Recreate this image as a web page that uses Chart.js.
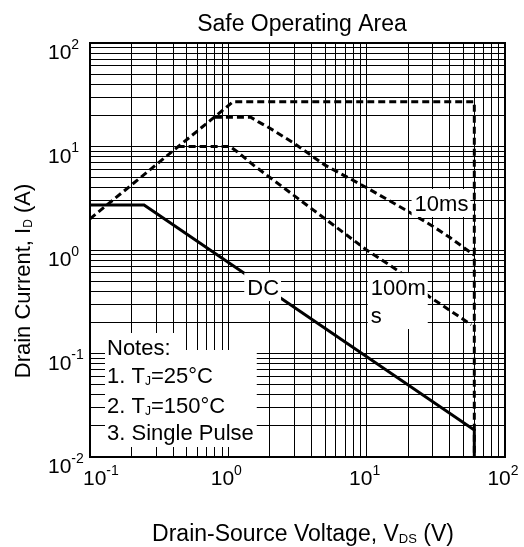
<!DOCTYPE html>
<html>
<head>
<meta charset="utf-8">
<script src="https://cdn.jsdelivr.net/npm/chart.js@4.4.0/dist/chart.umd.min.js"></script>
<style>
  html, body { margin: 0; padding: 0; background: #fff; }
  #wrap { width: 524px; height: 547px; position: relative; }
</style>
</head>
<body>
<div id="wrap"><canvas id="soa"></canvas></div>
<script>
// Safe Operating Area (log-log).
const xTickExps = [-1, 0, 1, 2];
const yTickExps = [-2, -1, 0, 1, 2];

// outer envelope: Rds(on) limit, 27 A flat, 60 V wall
const envV = [0.1, 1.08, 60, 60];
const envI = [2.0, 27, 27, 0.01];

// 10 ms pulse
const p10V = [0.8, 1.45, 1.64, 2.0, 3.0, 5.0, 10, 20, 30, 40, 60];
const p10I = [19.2, 19.2, 17.4, 15.0, 10.7, 6.6, 4.0, 2.35, 1.7, 1.32, 0.89];

// 100 ms pulse
const p100V = [0.43, 1.03, 1.16, 1.52, 3.3, 10, 17.3, 28.4, 57];
const p100I = [10, 10, 8.9, 6.6, 3.04, 1.0, 0.617, 0.354, 0.19];

// DC
const dcV = [0.1, 0.246, 60, 60];
const dcI = [2.72, 2.72, 0.0182, 0.01];

const FONT = "'Liberation Sans', Arial, Helvetica, sans-serif";

function pts(xs, ys) {
    return xs.map((x, i) => ({ x: x, y: ys[i] }));
}

// 1..9 per decade, last decade only its first line
function gridValues(exps) {
    const vals = [];
    exps.forEach((e, i) => {
        const base = Math.pow(10, e);
        if (i === exps.length - 1) { vals.push(base); return; }
        for (let m = 1; m <= 9; m++) vals.push(+(m * base).toPrecision(3));
    });
    return vals;
}

// text with sub/superscript parts: [{t, sub}, {t, sup}]
function partFont(p, size) {
    if (p.sup) return Math.round(size * 0.66);
    if (p.sub) return Math.round(size * 0.56);
    return size;
}
function richWidth(ctx, parts, size) {
    let w = 0;
    parts.forEach(p => {
        ctx.font = partFont(p, size) + 'px ' + FONT;
        w += ctx.measureText(p.t).width;
    });
    return w;
}
function drawRich(ctx, parts, x, y, size) {
    parts.forEach(p => {
        ctx.font = partFont(p, size) + 'px ' + FONT;
        let dy = 0;
        if (p.sup) dy = -size * 0.5;
        if (p.sub) dy = size * 0.1;
        ctx.fillText(p.t, x, y + dy);
        x += ctx.measureText(p.t).width;
    });
    return x;
}

// white-backed label anchored at data coords (left, baseline of first line)
function boxLabel(ctx, xs, ys, lines, vx, vys) {
    const size = 22;
    ctx.font = size + 'px ' + FONT;
    const px = xs.getPixelForValue(vx);
    const bases = vys.map(v => ys.getPixelForValue(v));
    const w = Math.max(...lines.map(l => ctx.measureText(l).width));
    ctx.fillStyle = '#fff';
    ctx.fillRect(px - 3, bases[0] - 22, w + 5, bases[bases.length - 1] + 6 - (bases[0] - 22));
    ctx.fillStyle = '#000';
    lines.forEach((l, i) => ctx.fillText(l, px, bases[i]));
}

const decorPlugin = {
    id: 'decor',
    afterDraw(chart) {
        const ctx = chart.ctx;
        const a = chart.chartArea;
        const xs = chart.scales.x, ys = chart.scales.y;
        ctx.save();

        // plot frame
        ctx.strokeStyle = '#000';
        ctx.lineWidth = 2;
        ctx.strokeRect(a.left, a.top, a.right - a.left, a.bottom - a.top);

        ctx.fillStyle = '#000';
        ctx.textAlign = 'left';
        ctx.textBaseline = 'alphabetic';

        // tick labels
        yTickExps.forEach(e => {
            const py = ys.getPixelForValue(Math.pow(10, e));
            drawRich(ctx, [{ t: '10' }, { t: String(e), sup: true }], a.left - 42, py + 16, 21);
        });
        xTickExps.forEach(e => {
            const px = xs.getPixelForValue(Math.pow(10, e));
            const parts = [{ t: '10' }, { t: String(e), sup: true }];
            const w = richWidth(ctx, parts, 21);
            let left = px - w / 2 - 2;
            if (left < a.left - 7) left = a.left - 7;
            drawRich(ctx, parts, left, a.bottom + 28, 21);
        });

        // title
        ctx.font = '23px ' + FONT;
        ctx.textAlign = 'center';
        ctx.fillText('Safe Operating Area', 302, a.top - 12);
        ctx.textAlign = 'left';

        // x title
        const xt = [{ t: 'Drain-Source Voltage, V' }, { t: 'DS', sub: true }, { t: ' (V)' }];
        const xw = richWidth(ctx, xt, 23);
        drawRich(ctx, xt, 303 - xw / 2, a.bottom + 84, 23);

        // y title
        const yt = [{ t: 'Drain Current, I' }, { t: 'D', sub: true }, { t: ' (A)' }];
        const yw = richWidth(ctx, yt, 22);
        ctx.save();
        ctx.translate(a.left - 60, 281);
        ctx.rotate(-Math.PI / 2);
        drawRich(ctx, yt, -yw / 2, 0, 22);
        ctx.restore();

        // curve labels
        boxLabel(ctx, xs, ys, ['DC'], 1.37, [0.367]);
        boxLabel(ctx, xs, ys, ['10ms'], 22.2, [2.38]);
        boxLabel(ctx, xs, ys, ['100m', 's'], 10.7, [0.367, 0.197]);

        // notes block
        const nx = a.left + 17;
        const notes = [
            [{ t: 'Notes:' }],
            [{ t: '1. T' }, { t: 'J', sub: true }, { t: '=25°C' }],
            [{ t: '2. T' }, { t: 'J', sub: true }, { t: '=150°C' }],
            [{ t: '3. Single Pulse' }]
        ];
        const nb = [a.bottom - 102, a.bottom - 74, a.bottom - 44, a.bottom - 17];
        const w0 = richWidth(ctx, notes[0], 22);
        const wMax = Math.max(...notes.slice(1).map(n => richWidth(ctx, n, 22)));
        ctx.fillStyle = '#fff';
        ctx.fillRect(nx - 2, nb[0] - 22, w0 + 6, 30);
        ctx.fillRect(nx - 2, nb[0] - 5, wMax + 5, nb[3] + 7 - (nb[0] - 5));
        ctx.fillStyle = '#000';
        notes.forEach((n, i) => drawRich(ctx, n, nx, nb[i], 22));

        ctx.restore();
    }
};

const dashed = {
    borderColor: '#000',
    borderWidth: 3,
    borderDash: [7, 4],
    pointRadius: 0,
    showLine: true,
    fill: false,
    tension: 0
};

new Chart(document.getElementById('soa'), {
    type: 'scatter',
    data: {
        datasets: [
            Object.assign({ label: '1ms', data: pts(envV, envI) }, dashed),
            Object.assign({ label: '10ms', data: pts(p10V, p10I) }, dashed),
            Object.assign({ label: '100ms', data: pts(p100V, p100I) }, dashed),
            {
                label: 'DC',
                data: pts(dcV, dcI),
                borderColor: '#000',
                borderWidth: 3,
                pointRadius: 0,
                showLine: true,
                fill: false,
                tension: 0
            }
        ]
    },
    options: {
        responsive: true,
        maintainAspectRatio: false,
        animation: false,
        layout: { padding: { left: 90, right: 19, top: 43, bottom: 90 } },
        plugins: {
            legend: { display: false },
            tooltip: { enabled: false },
            title: { display: false }
        },
        scales: {
            x: {
                type: 'logarithmic',
                min: 0.1,
                max: 100,
                afterBuildTicks: (s) => { s.ticks = gridValues(xTickExps).map(v => ({ value: v })); },
                ticks: { display: false },
                grid: { color: '#000', lineWidth: 1, drawTicks: false },
                border: { display: false }
            },
            y: {
                type: 'logarithmic',
                min: 0.01,
                max: 100,
                afterBuildTicks: (s) => { s.ticks = gridValues(yTickExps).map(v => ({ value: v })); },
                ticks: { display: false },
                grid: { color: '#000', lineWidth: 1, drawTicks: false },
                border: { display: false }
            }
        }
    },
    plugins: [decorPlugin]
});
</script>
</body>
</html>
